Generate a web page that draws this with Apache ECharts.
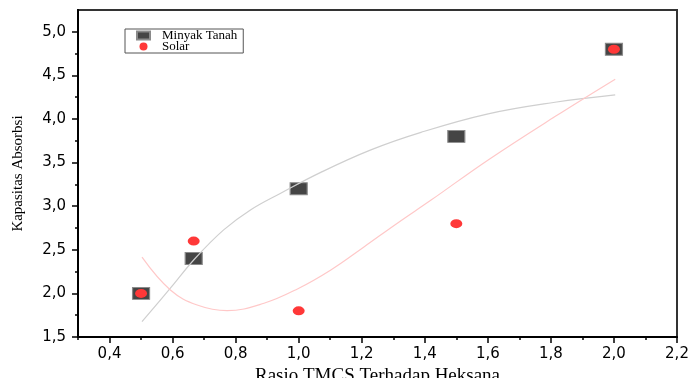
<!DOCTYPE html>
<html>
<head>
<meta charset="utf-8">
<script src="https://cdn.jsdelivr.net/npm/echarts@6/dist/echarts.min.js"></script>
<style>html,body{margin:0;padding:0;background:#fff}#c{width:691px;height:378px}</style>
</head>
<body>
<div id="c"></div>
<script>
// Data
const ratio = [0.5, 0.667, 1.0, 1.5, 2.0];
const minyakTanah = [2.0, 2.4, 3.2, 3.8, 4.8];
const solar = [2.0, 2.6, 1.8, 2.8, 4.8];
// Fitted curves
const fitMinyakX = [0.503, 0.593, 0.672, 0.762, 0.847, 0.943, 1.07, 1.229, 1.388, 1.601, 1.813, 2.004];
const fitMinyakY = [1.676, 2.06, 2.403, 2.728, 2.957, 3.149, 3.388, 3.646, 3.847, 4.059, 4.192, 4.277];
const fitSolarX = [0.503, 0.593, 0.678, 0.773, 0.89, 0.996, 1.102, 1.207, 1.314, 1.42, 1.601, 1.813, 2.004];
const fitSolarY = [2.415, 2.039, 1.867, 1.802, 1.887, 2.051, 2.269, 2.533, 2.808, 3.07, 3.531, 4.028, 4.457];
// Ticks
const xMajor = [0.4, 0.6, 0.8, 1.0, 1.2, 1.4, 1.6, 1.8, 2.0, 2.2];
const xMinor = [0.3, 0.5, 0.7, 0.9, 1.1, 1.3, 1.5, 1.7, 1.9, 2.1];
const yMajor = [1.5, 2.0, 2.5, 3.0, 3.5, 4.0, 4.5, 5.0];
const yMinor = [1.75, 2.25, 2.75, 3.25, 3.75, 4.25, 4.75];

const zip = (a, b) => a.map((v, i) => [v, b[i]]);
const fmt = v => v.toFixed(1).replace('.', ',');
const labelFont = { fontFamily: 'DejaVu Sans', fontSize: 15, color: '#000' };

const chart = echarts.init(document.getElementById('c'), null, { renderer: 'canvas' });
chart.setOption({
  animation: false,
  backgroundColor: '#fff',
  grid: { left: 78, right: 14, top: 10, bottom: 41, outerBoundsMode: 'none', containLabel: false,
          show: true, borderColor: '#333', borderWidth: 2 },
  legend: {
    left: 125, top: 29, orient: 'vertical',
    data: [{ name: 'Minyak Tanah', icon: 'rect' }, { name: 'Solar', icon: 'circle' }],
    itemWidth: 13, itemHeight: 8, itemGap: -2,
    padding: [0, 6, 0, 11],
    borderColor: '#555', borderWidth: 1,
    textStyle: { fontFamily: 'Liberation Serif', fontSize: 13, color: '#000', padding: [0, 0, 0, 7] }
  },
  xAxis: [{
    type: 'value', min: 0.3, max: 2.2,
    name: 'Rasio TMCS Terhadap Heksana', nameLocation: 'middle', nameGap: 26,
    nameTextStyle: { fontFamily: 'Liberation Serif', fontSize: 19, color: '#000' },
    axisLine: { lineStyle: { color: '#000', width: 2 } },
    axisTick: { customValues: xMajor, length: 6, lineStyle: { color: '#000', width: 1.5 } },
    axisLabel: Object.assign({ customValues: xMajor, formatter: fmt, margin: 10 }, labelFont),
    splitLine: { show: false }
  }, {
    type: 'value', min: 0.3, max: 2.2, position: 'bottom',
    axisLine: { show: false },
    axisTick: { customValues: xMinor, length: 3, lineStyle: { color: '#000', width: 1.5 } },
    axisLabel: { show: false },
    splitLine: { show: false }
  }],
  yAxis: [{
    type: 'value', min: 1.5, max: 5.25,
    name: 'Kapasitas Absorbsi', nameLocation: 'middle', nameGap: 52,
    nameTextStyle: { fontFamily: 'Liberation Serif', fontSize: 15, color: '#000' },
    axisLine: { show: true, lineStyle: { color: '#000', width: 2 } },
    axisTick: { show: true, customValues: yMajor, length: 6, lineStyle: { color: '#000', width: 1.5 } },
    axisLabel: Object.assign({ customValues: yMajor, formatter: fmt, margin: 12 }, labelFont),
    splitLine: { show: false }
  }, {
    type: 'value', min: 1.5, max: 5.25, position: 'left',
    axisLine: { show: false },
    axisTick: { show: true, customValues: yMinor, length: 3, lineStyle: { color: '#000', width: 1.5 } },
    axisLabel: { show: false },
    splitLine: { show: false }
  }],
  series: [
    { name: 'fitMinyak', type: 'line', data: zip(fitMinyakX, fitMinyakY), smooth: 0.4, showSymbol: false,
      lineStyle: { color: '#cfcfcf', width: 1.2 }, silent: true },
    { name: 'fitSolar', type: 'line', data: zip(fitSolarX, fitSolarY), smooth: 0.4, showSymbol: false,
      lineStyle: { color: '#ffc8c8', width: 1.2 }, silent: true },
    { name: 'Minyak Tanah', type: 'scatter', data: zip(ratio, minyakTanah), symbol: 'rect', symbolSize: [17, 12],
      itemStyle: { color: '#454545', borderColor: '#8a8a8a', borderWidth: 1, opacity: 1 } },
    { name: 'Solar', type: 'scatter', data: zip(ratio, solar), symbol: 'circle', symbolSize: [12, 9],
      itemStyle: { color: '#ff3838', opacity: 1 } }
  ]
});
</script>
</body>
</html>
